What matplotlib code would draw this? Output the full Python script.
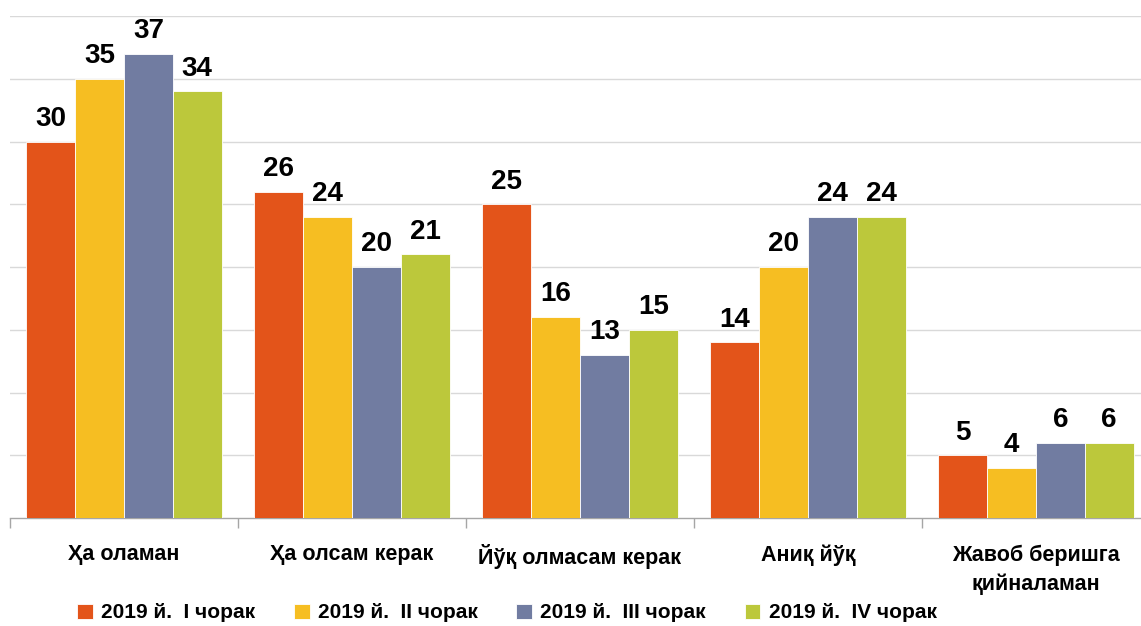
import numpy as np
import matplotlib.pyplot as plt
from matplotlib.ticker import FixedLocator

plt.rcParams['font.family'] = ['Liberation Sans Narrow', 'Liberation Sans', 'DejaVu Sans']
plt.rcParams['font.weight'] = 'bold'

categories = ['Ҳа оламан', 'Ҳа олсам керак', 'Йўқ олмасам керак', 'Аниқ йўқ',
              'Жавоб беришга\nқийналаман']
series_names = ['2019 й.  I чорак', '2019 й.  II чорак', '2019 й.  III чорак', '2019 й.  IV чорак']
q1 = [30, 26, 25, 14, 5]
q2 = [35, 24, 16, 20, 4]
q3 = [37, 20, 13, 24, 6]
q4 = [34, 21, 15, 24, 6]
colors = ['#E3541A', '#F6BE22', '#717CA1', '#BCC83B']

W, H = 1141, 626
fig = plt.figure(figsize=(W / 100, H / 100), dpi=100)
# plot area runs a bit past the right edge of the canvas
ax = fig.add_axes([10 / W, 1 - 518 / H, 1140 / W, 502 / H])

x = np.arange(len(categories))
bw = 0.214
for i, (vals, name, c) in enumerate(zip([q1, q2, q3, q4], series_names, colors)):
    pos = x + (i - 1.5) * bw
    bars = ax.bar(pos, vals, bw, color=c, edgecolor='white', linewidth=0.6,
                  label=name, zorder=3)
    for b, v in zip(bars, vals):
        ax.annotate(str(v), (b.get_x() + b.get_width() / 2, v),
                    xytext=(0, 7), textcoords='offset points',
                    ha='center', va='bottom', fontsize=20, fontweight='bold')

ax.set_xlim(-0.5, len(categories) - 0.5)
ax.set_ylim(0, 40)
ax.set_yticks(np.arange(5, 45, 5))
ax.yaxis.grid(True, color='#D9D9D9', linewidth=1, zorder=0)
ax.tick_params(axis='y', left=False, labelleft=False)

ax.set_xticks(x)
ax.set_xticklabels(categories, fontsize=15.5, fontweight='bold', linespacing=1.45)
ax.xaxis.set_minor_locator(FixedLocator(np.arange(-0.5, len(categories), 1)))
ax.tick_params(axis='x', which='major', length=0, pad=19)
ax.tick_params(axis='x', which='minor', length=7, color='#A6A6A6', width=1)

for s in ['top', 'right', 'left']:
    ax.spines[s].set_visible(False)
ax.spines['bottom'].set_color('#A6A6A6')
ax.spines['bottom'].set_linewidth(1)

fig.legend(loc='center', bbox_to_anchor=(507 / W, 1 - 613 / H), ncol=4, frameon=False,
           fontsize=15, handlelength=0.75, handleheight=0.75, handletextpad=0.4,
           columnspacing=1.85)

fig.savefig('out.png', dpi=100)
